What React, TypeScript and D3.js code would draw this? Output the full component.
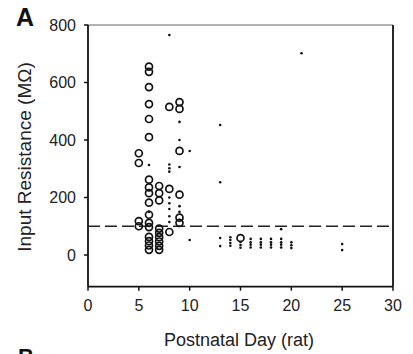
import React from 'react';
import * as d3 from 'd3';

// open circles: postnatal day -> input resistance values (MOhm)
const circleDays = [5, 6, 7, 8, 9, 15];
const circleValues = [
  [354, 320, 118, 100],
  [655, 637, 584, 525, 473, 410, 262, 235, 215, 182, 140, 112, 97, 63, 48, 33, 18],
  [240, 215, 190, 92, 77, 62, 47, 32, 18],
  [515, 230, 80],
  [532, 508, 362, 210, 130, 112],
  [59],
];

// small filled dots
const dotDays = [6, 8, 9, 10, 13, 14, 15, 16, 17, 18, 19, 20, 21, 25];
const dotValues = [
  [313, 150],
  [765, 315, 302, 290, 200, 180, 160, 135, 115],
  [463, 400, 306, 170, 150],
  [362, 52],
  [452, 253, 59, 31],
  [62, 52, 42, 32],
  [45, 35, 25],
  [56, 44, 36, 26],
  [56, 44, 36, 26],
  [56, 44, 36, 26],
  [90, 56, 44, 36, 26],
  [44, 34, 24],
  [702],
  [38, 17],
];

const xTicks = [0, 5, 10, 15, 20, 25, 30];
const yTicks = [0, 200, 400, 600, 800];
const threshold = 100;

const App = () => {
  const x = d3.scaleLinear().domain([0, 30]).range([88, 393]);
  const y = d3.scaleLinear().domain([0, 800]).range([255, 25]);
  const yBottom = y(-110);
  const font = 'Liberation Sans, Arial, sans-serif';

  const circles = circleDays.flatMap((d, i) => circleValues[i].map(v => ({ d, v })));
  const dots = dotDays.flatMap((d, i) => dotValues[i].map(v => ({ d, v })));

  return (
    <svg width={413} height={354} style={{ position: 'absolute', left: 0, top: 0, background: '#fff' }}
      fontFamily={font}>
      {/* frame */}
      <line x1={x(0)} x2={x(30)} y1={y(800)} y2={y(800)} stroke="#999" strokeWidth={1.5} />
      <line x1={x(30)} x2={x(30)} y1={y(800)} y2={yBottom} stroke="#111" strokeWidth={1.8} />
      <line x1={x(0)} x2={x(0)} y1={y(800)} y2={yBottom} stroke="#111" strokeWidth={1.8} />
      <line x1={x(0)} x2={x(30)} y1={yBottom} y2={yBottom} stroke="#111" strokeWidth={1.8} />

      {/* y ticks */}
      {yTicks.map(t => (
        <g key={'y' + t}>
          <line x1={x(0) - 4} x2={x(0)} y1={y(t)} y2={y(t)} stroke="#111" strokeWidth={1.5} />
          <text x={x(0) - 12} y={y(t) + 5.5} textAnchor="end" fontSize={16} fill="#222">{t}</text>
        </g>
      ))}

      {/* x ticks */}
      {xTicks.map(t => (
        <g key={'x' + t}>
          <line x1={x(t)} x2={x(t)} y1={yBottom} y2={yBottom + 4} stroke="#111" strokeWidth={1.5} />
          <text x={x(t)} y={311} textAnchor="middle" fontSize={16} fill="#222">{t}</text>
        </g>
      ))}

      {/* 100 MOhm threshold */}
      <line x1={x(0)} x2={x(30)} y1={y(threshold)} y2={y(threshold)} stroke="#222"
        strokeWidth={1.5} strokeDasharray="12,5" />

      {circles.map((p, i) => (
        <circle key={'c' + i} cx={x(p.d)} cy={y(p.v)} r={3.5} fill="none" stroke="#111" strokeWidth={1.7} />
      ))}
      {dots.map((p, i) => (
        <circle key={'d' + i} cx={x(p.d)} cy={y(p.v)} r={1.3} fill="#111" />
      ))}

      <text x={239} y={346} textAnchor="middle" fontSize={18} fill="#222">Postnatal Day (rat)</text>
      <text transform={`translate(31,157) rotate(-90)`} textAnchor="middle" fontSize={19} fill="#222">
        Input Resistance (MΩ)
      </text>
      <text x={16} y={26} fontSize={25} fontWeight="bold" fill="#111">A</text>
      <text x={18} y={364} fontSize={22} fontWeight="bold" fill="#111">B</text>
    </svg>
  );
};

export default App;
